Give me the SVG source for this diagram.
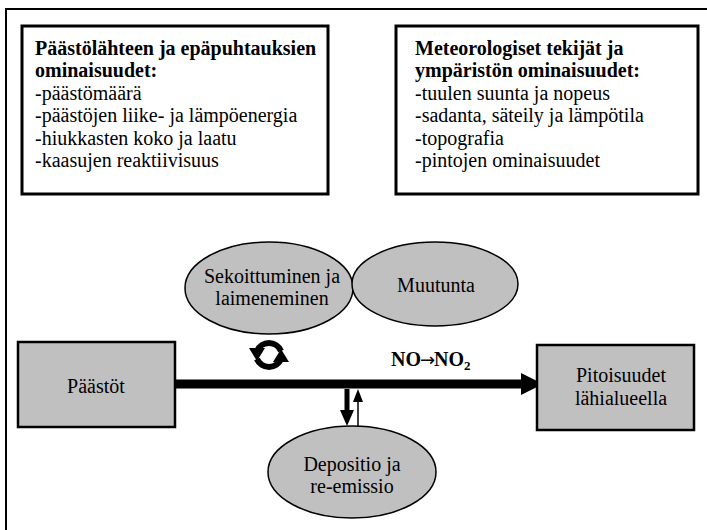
<svg xmlns="http://www.w3.org/2000/svg" width="707" height="530" viewBox="0 0 707 530">
<style>
text{font-family:"Liberation Serif","Times New Roman",serif;font-size:20px;fill:#000}
.b{font-weight:bold}
.c{text-anchor:middle}
.box{fill:#fff;stroke:#000;stroke-width:3}
.node{fill:#c0c0c0;stroke:#000;stroke-width:2.5}
.ell{fill:#c0c0c0;stroke:#000;stroke-width:1.5}
</style>
<rect width="707" height="530" fill="#fff"/>
<path d="M6,531 V9 H708" fill="none" stroke="#000" stroke-width="2"/>
<g id="source-props">
<rect class="box" x="22" y="26" width="306" height="168"/>
<text class="b" x="35" y="55">Päästölähteen ja epäpuhtauksien</text>
<text class="b" x="35" y="77">ominaisuudet:</text>
<text x="35" y="100">-päästömäärä</text>
<text x="35" y="122">-päästöjen liike- ja lämpöenergia</text>
<text x="35" y="145">-hiukkasten koko ja laatu</text>
<text x="35" y="167">-kaasujen reaktiivisuus</text>
</g>
<g id="meteo-props">
<rect class="box" x="396" y="26" width="302" height="168"/>
<text class="b" x="415" y="55">Meteorologiset tekijät ja</text>
<text class="b" x="415" y="77">ympäristön ominaisuudet:</text>
<text x="415" y="100">-tuulen suunta ja nopeus</text>
<text x="415" y="122">-sadanta, säteily ja lämpötila</text>
<text x="415" y="145">-topografia</text>
<text x="415" y="167">-pintojen ominaisuudet</text>
</g>
<g id="connectors">
<line x1="175" y1="384" x2="523" y2="384" stroke="#000" stroke-width="9"/>
<polygon points="521,373 543,384 521,395" fill="#000"/>
<line x1="347" y1="389" x2="347" y2="412" stroke="#000" stroke-width="5"/>
<polygon points="340,410 354,410 347,426" fill="#000"/>
<line x1="358" y1="426" x2="358" y2="400" stroke="#000" stroke-width="1.5"/>
<polygon points="353,402 363,402 358,389" fill="#000"/>
<g id="cycle-icon" fill="none" stroke="#000" stroke-width="6">
<path d="M281,351 A13,13 0 0 0 257,351"/>
<path d="M257,359 A13,13 0 0 0 281,359"/>
<polygon points="249,348 265,348 257,361" fill="#000" stroke="none"/>
<polygon points="273,362 289,362 281,349" fill="#000" stroke="none"/>
</g>
<text class="b" x="391" y="366" font-size="19">NO<tspan font-family="DejaVu Sans" font-weight="normal" font-size="18" dx="-1">→</tspan><tspan dx="-1">NO</tspan><tspan font-size="13" dy="4">2</tspan></text>
</g>
<g id="paastot">
<rect class="node" x="18" y="342" width="157" height="85"/>
<text class="c" x="96" y="393">Päästöt</text>
</g>
<g id="pitoisuudet">
<rect class="node" x="537" y="345" width="157" height="85"/>
<text class="c" x="621" y="382">Pitoisuudet</text>
<text class="c" x="621" y="405">lähialueella</text>
</g>
<g id="sekoittuminen">
<ellipse class="ell" cx="269" cy="288" rx="84" ry="46"/>
<text class="c" x="272" y="283">Sekoittuminen ja</text>
<text class="c" x="272" y="305">laimeneminen</text>
</g>
<g id="muutunta">
<ellipse class="ell" cx="435" cy="284" rx="83" ry="42"/>
<text class="c" x="436" y="292">Muutunta</text>
</g>
<g id="depositio">
<ellipse class="ell" cx="352" cy="472" rx="84" ry="46"/>
<text class="c" x="352" y="471">Depositio ja</text>
<text class="c" x="352" y="493">re-emissio</text>
</g>
</svg>
